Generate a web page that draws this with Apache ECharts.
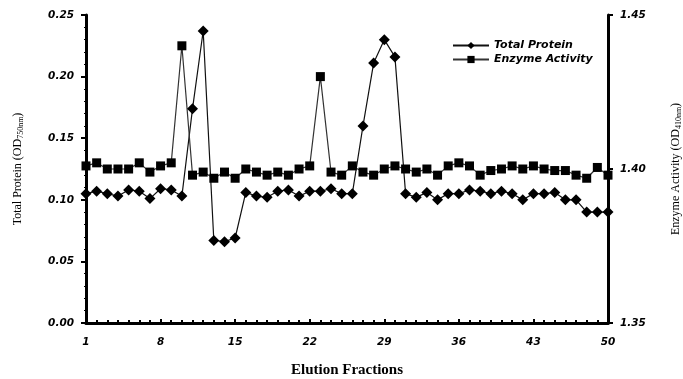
<!DOCTYPE html>
<html>
<head>
<meta charset="utf-8">
<script src="https://cdn.jsdelivr.net/npm/echarts@6/dist/echarts.min.js"></script>
<style>
html,body{margin:0;padding:0;background:#fff;}
#chart{width:683px;height:379px;}
</style>
</head>
<body>
<div id="chart"></div>
<script>
var fractions = [];
for (var i = 1; i <= 50; i++) fractions.push(i);
var totalProtein = [
  0.105,0.107,0.105,0.103,0.108,0.107,0.101,0.109,0.108,0.103,
  0.174,0.237,0.067,0.066,0.069,0.106,0.103,0.102,0.107,0.108,
  0.103,0.107,0.107,0.109,0.105,0.105,0.160,0.211,0.230,0.216,
  0.105,0.102,0.106,0.100,0.105,0.105,0.108,0.107,0.105,0.107,
  0.105,0.100,0.105,0.105,0.106,0.100,0.100,0.090,0.090,0.090
];
var enzymeActivity = [
  1.401,1.402,1.400,1.400,1.400,1.402,1.399,1.401,1.402,1.440,
  1.398,1.399,1.397,1.399,1.397,1.400,1.399,1.398,1.399,1.398,
  1.400,1.401,1.430,1.399,1.398,1.401,1.399,1.398,1.400,1.401,
  1.400,1.399,1.400,1.398,1.401,1.402,1.401,1.398,1.3995,1.400,
  1.401,1.400,1.401,1.400,1.3995,1.3995,1.398,1.397,1.4005,1.398
];
var leftTicks = [0, 0.25, 0.05];
var rightTicks = [1.35, 1.45, 0.05];

function pairs(vals){ return fractions.map(function(f,i){ return [f, vals[i]]; }); }

var labelFont = {color:'#000', fontFamily:'DejaVu Sans', fontWeight:'bold', fontStyle:'italic', fontSize:10.5};
var axisLine = {show:true, onZero:false, lineStyle:{color:'#000', width:3}};

var chart = echarts.init(document.getElementById('chart'));
chart.setOption({
  animation:false,
  backgroundColor:'#fff',
  grid:{left:86, right:75, top:15, bottom:56, containLabel:false, outerBoundsMode:'none'},
  legend:{
    orient:'vertical', left:452, top:40, padding:0, itemGap:3, itemWidth:36, itemHeight:9,
    textStyle:{color:'#000', fontFamily:'DejaVu Sans', fontWeight:'bold', fontStyle:'italic', fontSize:11},
    data:['Total Protein','Enzyme Activity']
  },
  xAxis:{
    type:'value', min:1, max:50, interval:7,
    name:'Elution Fractions', nameLocation:'middle', nameGap:40,
    nameTextStyle:{color:'#000', fontFamily:'Liberation Serif', fontWeight:'bold', fontSize:15},
    axisLine:axisLine,
    axisTick:{show:true, inside:true, length:4, lineStyle:{color:'#000', width:2}},
    minorTick:{show:true, splitNumber:7, length:3, lineStyle:{color:'#000', width:2}},
    axisLabel:Object.assign({margin:14}, labelFont),
    splitLine:{show:false}
  },
  yAxis:[{
    type:'value', min:leftTicks[0], max:leftTicks[1], interval:leftTicks[2], position:'left',
    name:'{m|Total Protein (OD}{s|750nm}{m|)}', nameLocation:'middle', nameGap:62, nameRotate:90,
    nameTextStyle:{rich:{m:{fontFamily:'Liberation Serif', fontSize:12, color:'#000'}, s:{fontFamily:'Liberation Serif', fontSize:8, color:'#000', padding:[0,0,-6,0]}}},
    axisLine:axisLine,
    axisTick:{show:true, length:5, lineStyle:{color:'#000', width:2}},
    minorTick:{show:true, splitNumber:5, length:2, lineStyle:{color:'#000', width:1}},
    axisLabel:Object.assign({margin:12, formatter:function(v){return v.toFixed(2);}}, labelFont),
    splitLine:{show:false}
  },{
    type:'value', min:rightTicks[0], max:rightTicks[1], interval:rightTicks[2], position:'right',
    name:'{m|Enzyme Activity (OD}{s|410nm}{m|)}', nameLocation:'middle', nameGap:62, nameRotate:90,
    nameTextStyle:{rich:{m:{fontFamily:'Liberation Serif', fontSize:12, color:'#000'}, s:{fontFamily:'Liberation Serif', fontSize:8, color:'#000', padding:[0,0,-6,0]}}},
    axisLine:axisLine,
    axisTick:{show:true, length:5, lineStyle:{color:'#000', width:2}},
    minorTick:{show:true, splitNumber:5, length:2, lineStyle:{color:'#000', width:1}},
    axisLabel:Object.assign({margin:12, formatter:function(v){return v.toFixed(2);}}, labelFont),
    splitLine:{show:false}
  }],
  series:[{
    name:'Total Protein', type:'line', yAxisIndex:0, data:pairs(totalProtein),
    symbol:'diamond', symbolSize:[11,11], showAllSymbol:true,
    lineStyle:{color:'#111', width:1.2}, itemStyle:{color:'#000'}
  },{
    name:'Enzyme Activity', type:'line', yAxisIndex:1, data:pairs(enzymeActivity),
    symbol:'rect', symbolSize:[9,9], showAllSymbol:true,
    lineStyle:{color:'#333', width:1.2}, itemStyle:{color:'#000'}
  }]
});
</script>
</body>
</html>
